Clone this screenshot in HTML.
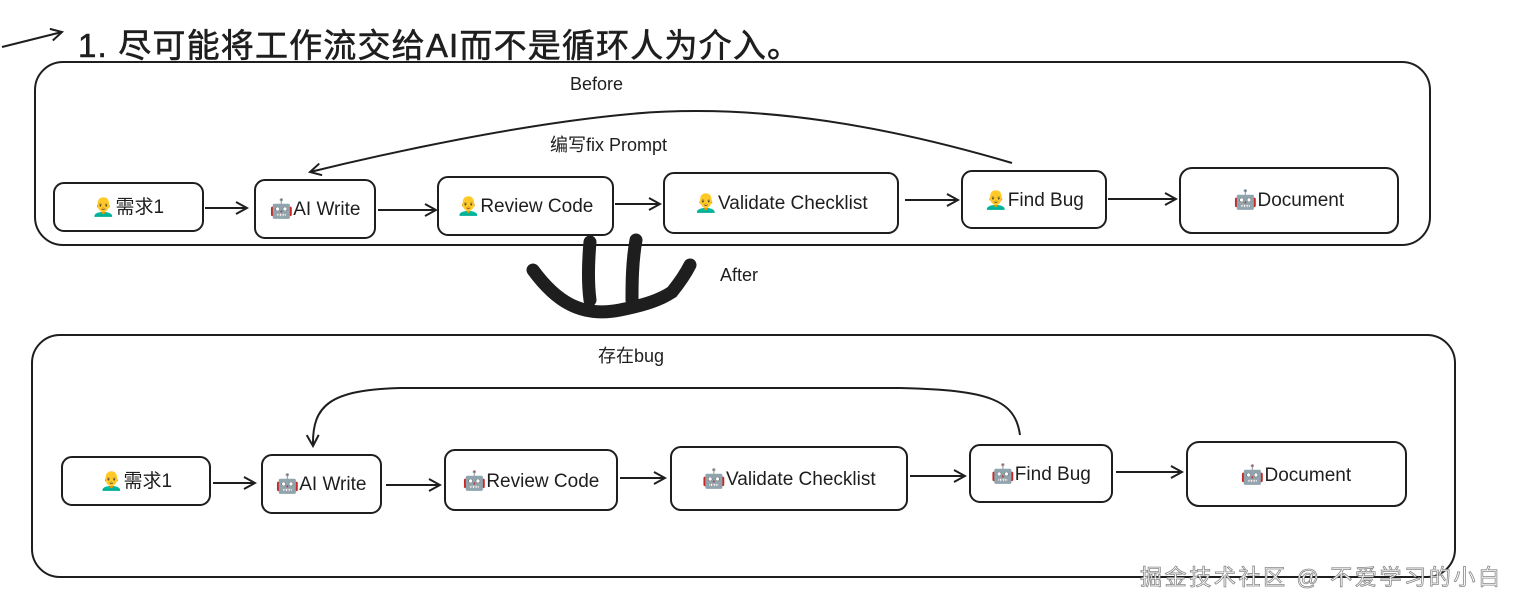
<!DOCTYPE html>
<html><head><meta charset="utf-8"><style>
body{margin:0;background:#fff;width:1520px;height:609px;overflow:hidden}
svg text{font-family:"Liberation Sans","Noto Sans CJK SC",sans-serif;fill:#1e1e1e}
</style></head><body>
<svg width="1520" height="609" viewBox="0 0 1520 609" xmlns="http://www.w3.org/2000/svg">
<defs><marker id="a" markerWidth="14" markerHeight="14" refX="12" refY="7" orient="auto" markerUnits="userSpaceOnUse"><path d="M1,1 L12,7 L1,13" fill="none" stroke="#1e1e1e" stroke-width="2"/></marker></defs>
<g fill="none" stroke="#1e1e1e" stroke-width="2">
<path d="M2,47 L62,32" marker-end="url(#a)"/>
<rect x="35" y="62" width="1395" height="183" rx="28"/>
<rect x="54" y="183" width="149" height="48" rx="10"/>
<rect x="255" y="180" width="120" height="58" rx="10"/>
<rect x="438" y="177" width="175" height="58" rx="10"/>
<rect x="664" y="173" width="234" height="60" rx="10"/>
<rect x="962" y="171" width="144" height="57" rx="10"/>
<rect x="1180" y="168" width="218" height="65" rx="12"/>
<path d="M205,208 L247,208" marker-end="url(#a)"/>
<path d="M378,210 L436,210" marker-end="url(#a)"/>
<path d="M615,204 L660,204" marker-end="url(#a)"/>
<path d="M905,200 L958,200" marker-end="url(#a)"/>
<path d="M1108,199 L1176,199" marker-end="url(#a)"/>
<path d="M1012,163 C900,130 760,100 620,115 C520,125 400,150 310,172" marker-end="url(#a)"/>
<rect x="32" y="335" width="1423" height="242" rx="28"/>
<rect x="62" y="457" width="148" height="48" rx="10"/>
<rect x="262" y="455" width="119" height="58" rx="10"/>
<rect x="445" y="450" width="172" height="60" rx="10"/>
<rect x="671" y="447" width="236" height="63" rx="10"/>
<rect x="970" y="445" width="142" height="57" rx="10"/>
<rect x="1187" y="442" width="219" height="64" rx="12"/>
<path d="M213,483 L255,483" marker-end="url(#a)"/>
<path d="M386,485 L440,485" marker-end="url(#a)"/>
<path d="M620,478 L665,478" marker-end="url(#a)"/>
<path d="M910,476 L965,476" marker-end="url(#a)"/>
<path d="M1116,472 L1182,472" marker-end="url(#a)"/>
<path d="M1020,435 C1015,400 990,390 900,388 L400,388 C330,390 312,405 313,446" marker-end="url(#a)"/>
</g>
<g fill="none" stroke="#1e1e1e" stroke-width="13" stroke-linecap="round">
<path d="M590,242 C588,265 588,285 590,300"/>
<path d="M636,240 C632,262 632,285 632,300"/>
<path d="M533,270 C555,300 580,318 620,310 C645,305 660,300 672,292 C680,282 685,275 690,265"/>
</g>
<text x="78" y="57" font-size="33" textLength="722" lengthAdjust="spacing" style="stroke:#1e1e1e;stroke-width:0.6">1. 尽可能将工作流交给AI而不是循环人为介入。</text>
<text x="570" y="90" font-size="18">Before</text>
<text x="550" y="151" font-size="18">编写fix Prompt</text>
<text x="720" y="281" font-size="18">After</text>
<text x="598" y="362" font-size="18">存在bug</text>
<g font-size="19" text-anchor="middle">
<text x="128" y="213">👨‍🦲需求1</text>
<text x="315" y="215">🤖AI Write</text>
<text x="525" y="212">👨‍🦲Review Code</text>
<text x="781" y="209">👨‍🦲Validate Checklist</text>
<text x="1034" y="206">👨‍🦲Find Bug</text>
<text x="1289" y="206">🤖Document</text>
<text x="136" y="487">👨‍🦲需求1</text>
<text x="321" y="490">🤖AI Write</text>
<text x="531" y="487">🤖Review Code</text>
<text x="789" y="485">🤖Validate Checklist</text>
<text x="1041" y="480">🤖Find Bug</text>
<text x="1296" y="481">🤖Document</text>
</g>
<text x="1140" y="585" font-size="22" textLength="360" lengthAdjust="spacing" style="fill:#fff;stroke:#888;stroke-width:0.8">掘金技术社区 @ 不爱学习的小白</text>
</svg>
</body></html>
